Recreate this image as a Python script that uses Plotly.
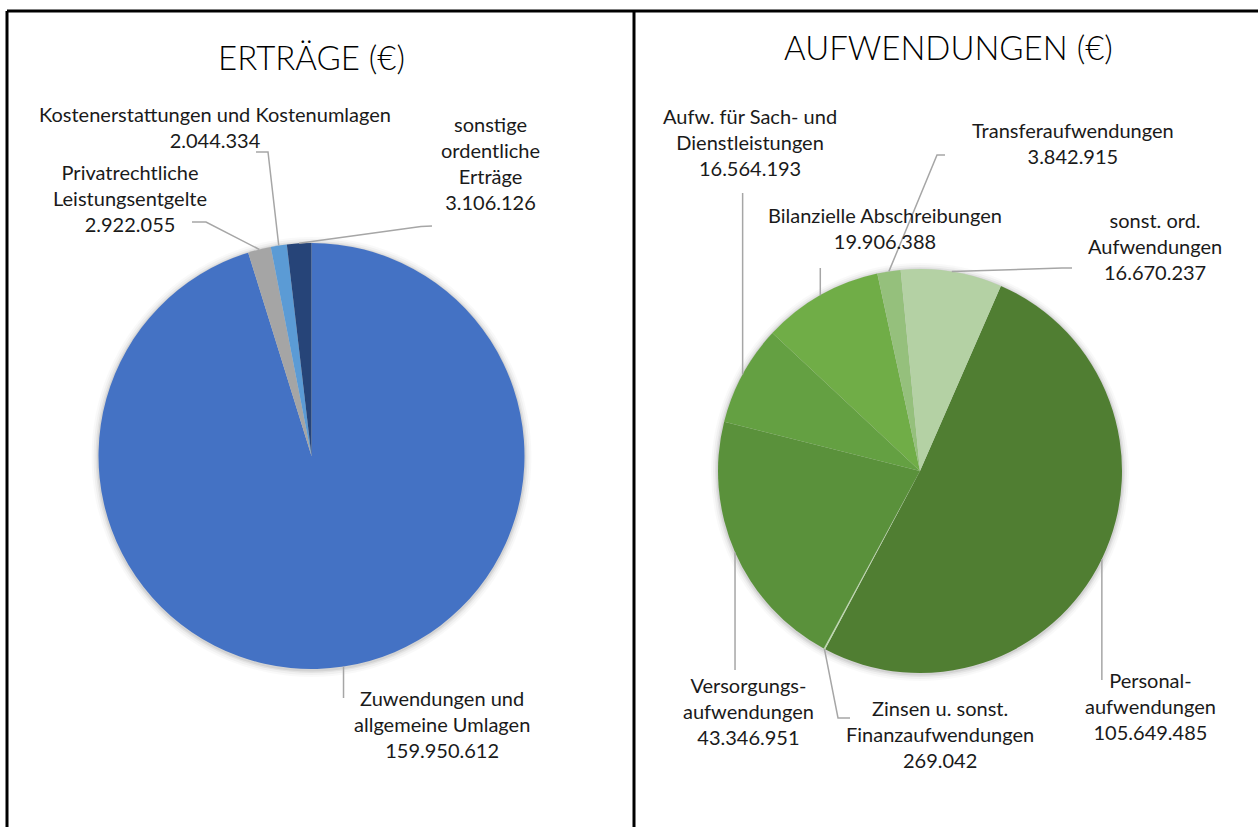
import math
import plotly.graph_objects as go

# ---------------- data ----------------
ertraege_labels = [
    "Zuwendungen und allgemeine Umlagen",
    "Privatrechtliche Leistungsentgelte",
    "Kostenerstattungen und Kostenumlagen",
    "sonstige ordentliche Erträge",
]
ertraege_values = [159950612, 2922055, 2044334, 3106126]
ertraege_text = [
    "Zuwendungen und<br>allgemeine Umlagen",
    "Privatrechtliche<br>Leistungsentgelte",
    "Kostenerstattungen und Kostenumlagen",
    "sonstige<br>ordentliche<br>Erträge",
]

aufw_labels = [
    "Personalaufwendungen",
    "Zinsen u. sonst. Finanzaufwendungen",
    "Versorgungsaufwendungen",
    "Aufw. für Sach- und Dienstleistungen",
    "Bilanzielle Abschreibungen",
    "Transferaufwendungen",
    "sonst. ord. Aufwendungen",
]
aufw_values = [105649485, 269042, 43346951, 16564193, 19906388, 3842915, 16670237]
aufw_text = [
    "Personal-<br>aufwendungen",
    "Zinsen u. sonst.<br>Finanzaufwendungen",
    "Versorgungs-<br>aufwendungen",
    "Aufw. für Sach- und<br>Dienstleistungen",
    "Bilanzielle Abschreibungen",
    "Transferaufwendungen",
    "sonst. ord.<br>Aufwendungen",
]

# ---------------- styles / layout ----------------
W, H = 1258, 827
FONT = "Lato"
ertraege_colors = ["#4472C4", "#A5A5A5", "#5B9BD5", "#264478"]
aufw_colors = ["#507E32", "#BFD9B0", "#5A913B", "#64A042", "#70AD47", "#95C07C", "#B4D1A4"]

# pie geometry in pixels: center x, center y, radius, rotation
L_CX, L_CY, L_R, L_ROT = 311.5, 456, 213, 0
R_CX, R_CY, R_R, R_ROT = 920, 471, 202, 23.6

# label positions (block centers, px) and leader anchor points near labels
# anchor: list of points from label side toward pie; None x => same x as edge point
ertraege_label_pos = [(442, 724), (130, 198), (215, 127), (490, 163)]
ertraege_leader = [
    [(None, 698)],
    [(192, 222), (206, 222)],
    [(256, 152), (268, 152)],
    [(432, 226), (421, 226.5)],
]
aufw_label_pos = [(1150, 706), (940, 734), (748, 711), (750, 142), (885, 228), (1073, 143), (1155, 246)]
aufw_leader = [
    [(None, 680)],
    [(850, 718), (838, 718)],
    [(None, 670)],
    [(None, 193)],
    [(None, 268)],
    [(945, 155), (937, 155)],
    [(1072, 268), (1062, 268)],
]


def px(x):
    return x / W


def py(y):
    return 1 - y / H


def fmt(v):
    return f"{v:,}".replace(",", ".")


fig = go.Figure()

shapes = []
annotations = []


def add_pie(labels, values, colors, cx, cy, r, rot, texts, label_pos, leaders):
    # soft shadow rings
    for k, op in [(7, 0.025), (5, 0.035), (3, 0.05), (1.5, 0.07)]:
        shapes.append(dict(type="circle", xref="paper", yref="paper", layer="below",
                           x0=px(cx - r - k), x1=px(cx + r + k),
                           y0=py(cy + r + k + 1), y1=py(cy - r - k + 1),
                           fillcolor=f"rgba(0,0,0,{op})", line=dict(width=0)))
    fig.add_trace(go.Pie(
        labels=labels, values=values, sort=False, direction="clockwise",
        rotation=rot, marker=dict(colors=colors, line=dict(width=0)),
        textinfo="none", hoverinfo="label+value", showlegend=False,
        domain=dict(x=[px(cx - r), px(cx + r)], y=[py(cy + r), py(cy - r)]),
    ))
    total = sum(values)
    start = rot
    for i, v in enumerate(values):
        ang = v / total * 360
        mid = math.radians(start + ang / 2)
        start += ang
        ex = cx + r * math.sin(mid)
        ey = cy - r * math.cos(mid)
        pts = [(ex if p[0] is None else p[0], p[1]) for p in leaders[i]] + [(ex, ey)]
        path = "M " + " L ".join(f"{px(x):.5f},{py(y):.5f}" for x, y in pts)
        shapes.append(dict(type="path", xref="paper", yref="paper", path=path,
                           line=dict(color="#A6A6A6", width=1.5)))
        lx, ly = label_pos[i]
        annotations.append(dict(
            x=px(lx), y=py(ly), xref="paper", yref="paper", showarrow=False,
            xanchor="center", yanchor="middle", align="center",
            text=f"{texts[i]}<br>{fmt(v)}",
            font=dict(family=FONT, size=20, color="#1a1a1a"),
        ))


add_pie(ertraege_labels, ertraege_values, ertraege_colors, L_CX, L_CY, L_R, L_ROT,
        ertraege_text, ertraege_label_pos, ertraege_leader)
add_pie(aufw_labels, aufw_values, aufw_colors, R_CX, R_CY, R_R, R_ROT,
        aufw_text, aufw_label_pos, aufw_leader)

# titles
annotations.append(dict(x=px(311), y=py(57), xref="paper", yref="paper", showarrow=False,
                        xanchor="center", yanchor="middle", text="ERTRÄGE (€)",
                        font=dict(family=FONT, size=33, color="#000000", weight=300)))
annotations.append(dict(x=px(948), y=py(47), xref="paper", yref="paper", showarrow=False,
                        xanchor="center", yanchor="middle", text="AUFWENDUNGEN (€)",
                        font=dict(family=FONT, size=33, color="#000000", weight=300)))

# table borders
for x0, y0, x1, y1 in [(7, 11, 1258, 11), (7, 11, 7, 827), (634, 11, 634, 827)]:
    shapes.append(dict(type="line", xref="paper", yref="paper",
                       x0=px(x0), y0=py(y0), x1=px(x1), y1=py(y1),
                       line=dict(color="black", width=3)))

fig.update_layout(
    width=W, height=H, margin=dict(l=0, r=0, t=0, b=0),
    paper_bgcolor="white", plot_bgcolor="white",
    shapes=shapes, annotations=annotations,
    font=dict(family=FONT),
)

fig.write_html("out.html", config={"displayModeBar": False},
               post_script="document.body.style.margin='0';document.body.style.overflow='hidden';")
